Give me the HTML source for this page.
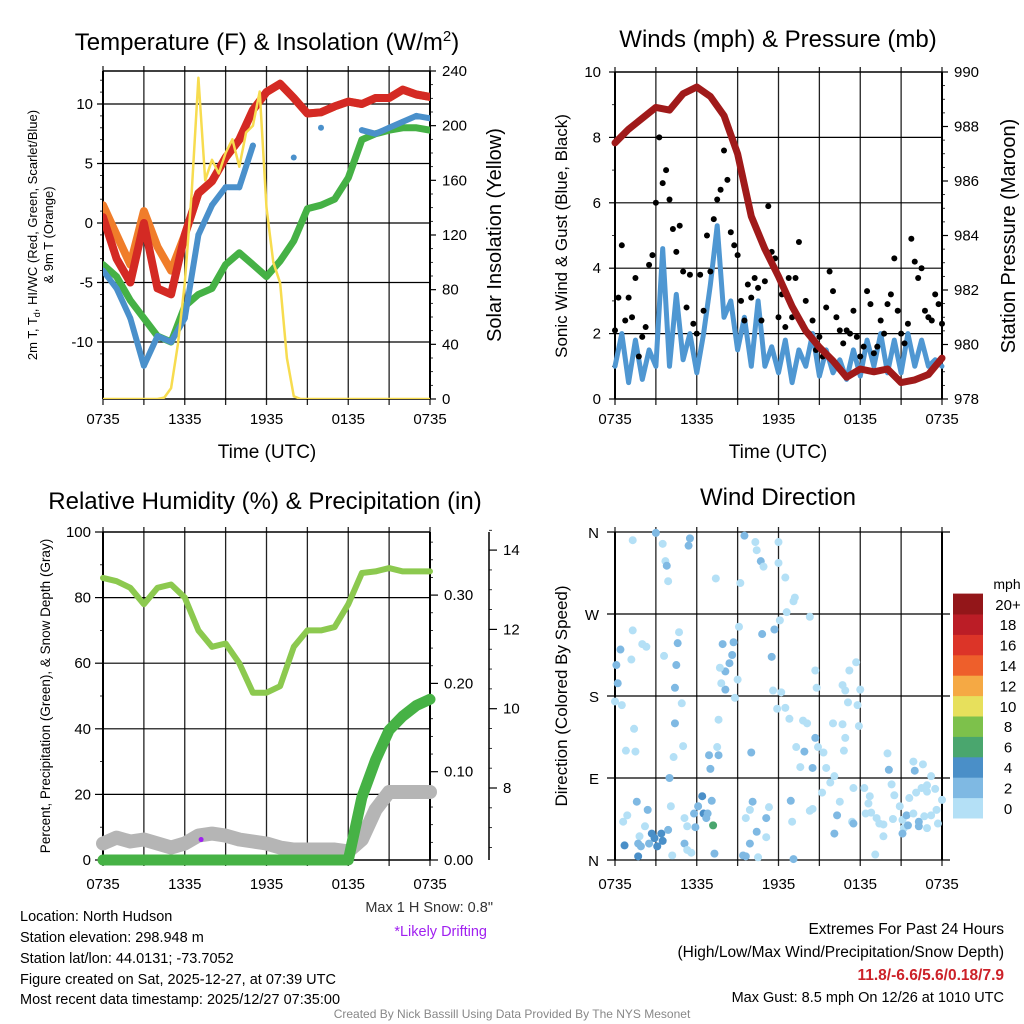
<!DOCTYPE html>
<html><head><meta charset="utf-8">
<style>
body{margin:0;background:#fff;}
svg{display:block;font-family:"Liberation Sans",sans-serif;}
</style></head>
<body>
<svg id="fig" width="1024" height="1024" viewBox="0 0 1024 1024" xmlns="http://www.w3.org/2000/svg">
<g font-size="24" text-anchor="middle" fill="#000">
<text x="267" y="50">Temperature (F) &amp; Insolation (W/m<tspan dy="-9" font-size="15">2</tspan><tspan dy="9">)</tspan></text>
<text x="778" y="47">Winds (mph) &amp; Pressure (mb)</text>
<text x="265" y="509">Relative Humidity (%) &amp; Precipitation (in)</text>
<text x="778" y="505">Wind Direction</text>
</g>
<g id="layer"></g>
<g font-size="14.5" fill="#000">
<text x="20" y="921">Location: North Hudson</text>
<text x="20" y="942">Station elevation: 298.948 m</text>
<text x="20" y="963">Station lat/lon: 44.0131; -73.7052</text>
<text x="20" y="984">Figure created on Sat, 2025-12-27, at 07:39 UTC</text>
<text x="20" y="1004">Most recent data timestamp: 2025/12/27 07:35:00</text>
<text x="493" y="912" text-anchor="end" fill="#333">Max 1 H Snow: 0.8"</text>
<text x="487" y="936" text-anchor="end" fill="#a020f0">*Likely Drifting</text>
<text x="1004" y="934" text-anchor="end" font-size="15.5">Extremes For Past 24 Hours</text>
<text x="1004" y="957" text-anchor="end" font-size="15.5">(High/Low/Max Wind/Precipitation/Snow Depth)</text>
<text x="1004" y="980" text-anchor="end" font-size="15.5" font-weight="bold" fill="#cc2229">11.8/-6.6/5.6/0.18/7.9</text>
<text x="1004" y="1002" text-anchor="end" font-size="14.5">Max Gust: 8.5 mph On 12/26 at 1010 UTC</text>
<text x="512" y="1018" text-anchor="middle" font-size="12" fill="#888">Created By Nick Bassill Using Data Provided By The NYS Mesonet</text>
</g>
</svg>
<script>
// ---- data ----
const timeLabels = ["0735","1335","1935","0135","0735"];
const hours = [0,1,2,3,4,5,6,7,8,9,10,11,12,13,14,15,16,17,18,19,20,21,22,23,24];
const tempRed = [0.5,-3,-5,0,-5.5,-6,-1,2.5,3.5,5.5,7,9.5,11,11.7,10.5,9.2,9.3,9.8,10.2,10,10.5,10.5,11.2,10.8,10.6];
const temp9mOrange = [1.5,-1,-3.5,1,-2,-4,-1,2.5,3.5,5.5,7,9.5,11,11.7,10.5,9.2,9.3,9.8,10.2,10,10.5,10.5,11.2,10.8,10.6];
const dewGreen = [-3.5,-4.5,-6.5,-8,-9.5,-10,-7,-6,-5.5,-3.5,-2.5,-3.5,-4.5,-3.2,-1.5,1.2,1.5,2,3.8,7,7.5,7.8,8,8,7.8];
const windChillBlue = [-4,-5.5,-8,-12,-9.5,-10,-8,-1,1.5,3,3,6.5,null,null,5.5,null,8,null,null,7.8,7.5,8,8.5,9,8.8];
const halfHours = [0,0.5,1,1.5,2,2.5,3,3.5,4,4.5,5,5.5,6,6.5,7,7.5,8,8.5,9,9.5,10,10.5,11,11.5,12,12.5,13,13.5,14,14.5,15,15.5,16,16.5,17,17.5,18,18.5,19,19.5,20,20.5,21,21.5,22,22.5,23,23.5,24];
const insolation = [0,0,0,0,0,0,0,0,0,1,8,40,85,150,235,160,175,165,180,190,170,195,200,225,140,100,85,30,2,0,0,0,0,0,0,0,0,0,0,0,0,0,0,0,0,0,0,0,0];
const pressure = [987.4,987.9,988.3,988.7,988.6,989.2,989.45,989.1,988.4,987,984.7,983.5,982.5,981.4,980.5,979.9,979.4,978.8,979.1,979.0,979.1,978.6,978.7,978.9,979.5];
const windSpeed = [1.0,2.0,0.5,1.8,0.6,1.5,1.0,4.6,1.0,3.2,1.2,2.0,0.8,2.0,3.5,5.3,2.5,3.0,1.5,2.5,1.0,3.0,1.0,1.6,0.8,1.8,0.5,1.5,1.0,2.0,0.7,1.5,0.8,1.2,0.6,1.5,0.7,1.8,1.0,2.0,0.8,1.8,0.8,2.0,1.0,1.8,1.0,1.2,1.0];
const gusts = [2.1,3.1,4.7,2.4,3.1,2.5,3.7,1.3,1.9,2.2,4.1,4.4,6.0,8.0,6.6,7.0,6.1,5.2,4.5,5.3,3.9,2.8,3.8,2.3,2.0,3.8,2.7,5.0,3.9,5.5,6.1,6.4,7.6,6.7,5.1,4.7,4.4,3.0,2.4,3.5,3.1,3.7,3.4,2.4,3.6,5.9,4.5,4.3,2.5,3.2,2.2,3.7,2.5,3.7,4.8,2.3,3.0,2.0,2.4,1.5,1.9,1.3,2.8,3.9,3.3,2.5,2.1,1.7,2.1,2.0,2.7,1.9,1.3,1.6,3.3,2.9,1.4,1.6,2.4,2.0,2.9,3.2,4.3,2.7,2.0,1.7,2.3,4.9,4.2,3.7,4.0,2.7,2.5,2.4,3.2,2.9,2.3];
const relHumidity = [86,85,83,78,83,84,80,70,65,66,60,51,51,53,65,70,70,71,78,87.5,88,89,88,88,88];
const precip = [0,0,0,0,0,0,0,0,0,0,0,0,0,0,0,0,0,0,0,0.071,0.113,0.147,0.163,0.175,0.182];
const snowDepth = [6.6,6.75,6.65,6.7,6.6,6.5,6.6,6.8,6.85,6.8,6.7,6.65,6.6,6.5,6.45,6.45,6.45,6.45,6.4,6.7,7.45,7.9,7.9,7.9,7.9];
const dirTime = [1.3,3,3.5,3.7,3.8,3.9,5.5,5.4,7.4,9.2,9.5,10.3,10.4,10.7,10.9,12,12,12.5,13.2,13.1,12.6,14.3,12.1,11.7,10.8,9.1,1.3,0.4,0.1,0.2,0,0.5,1.2,2,2.3,1.4,0.8,1.5,3.6,4.6,4.5,4.4,4.9,4.4,5,4.3,4,4.7,7.9,8.7,8.6,8.4,8.1,7.7,8.1,9,8.8,7.8,7.6,7.5,6.9,7.6,7,10,11.5,11.6,12.2,12.5,11.9,12.8,13.8,14.1,14.7,13.9,13.3,13.6,14.5,14.9,15.3,15.5,16.1,14.7,14.8,16.7,16.9,17.2,17.7,17.1,17.8,18,17.9,16,16.7,16.9,16.8,15.8,15.2,17.5,18.3,18.7,18.6,18.4,18.8,19.2,19.4,19.7,19.7,19.1,20.1,20,20.3,20.5,20.9,20.4,21.1,21.4,21.2,21.5,21.1,21.9,22.3,22.3,22.7,22.9,21.6,22,21.9,22.6,22.1,22.5,22.9,23.2,23.5,23.6,24,23.7,23.2,22.9,0.9,0.6,1.6,2.4,2.2,1.8,1.7,1.9,2.5,2.7,2.9,3.4,3.5,3.1,1.7,0.7,3.9,4.1,4.2,5.1,5.3,5.6,5.1,5.3,5.8,5.9,6.1,6.4,6.5,6.8,6.7,7.2,7.1,7.3,9.4,9.6,9.9,9.6,9.9,10.1,10.4,11.1,11.3,11.1,10.5,12.9,13,13.1,14.3,14.5,16.1,16.3,16.5,17.4,17.5];
const dirDeg = [351,359,347,328,323,306,353,345,309,304,356,349,340,328,322,349,326,310,288,284,272,267,263,253,248,256,252,231,214,194,174,170,220,237,234,144,120,119,224,238,214,189,172,150,125,113,90,250,237,239,225,216,207,211,187,198,178,194,154,124,115,115,100,118,223,186,184,167,166,155,153,150,134,119,124,102,101,124,118,101,92,208,189,192,186,208,217,173,170,187,147,150,149,134,120,85,74,79,79,70,62,51,52,46,40,39,26,6,99,117,83,71,59,45,44,49,35,38,29,51,42,37,48,35,68,98,108,105,74,79,82,92,78,55,66,40,49,75,49,42,64,55,37,26,18,15,18,29,24,29,21,15,4,16,33,59,5,18,11,8,46,37,51,36,59,70,51,51,46,38,65,7,5,4,18,46,55,64,31,46,58,25,3,65,42,1,54,56,29,49,64,42,40];
const dirSpeed = [1,3,1,1,3,1,3,3,1,1,3,1,1,3,1,1,1,1,1,1,1,1,1,3,3,1,1,3,3,3,1,1,1,1,1,1,1,1,1,3,3,3,1,3,1,1,3,1,3,3,3,3,3,1,3,1,1,1,1,1,3,3,3,3,3,1,1,1,1,1,1,1,3,3,1,1,3,1,1,1,1,1,1,1,1,1,1,1,1,1,1,1,1,1,1,1,1,1,1,1,1,1,1,1,1,1,1,1,3,1,1,1,1,1,1,3,1,3,3,1,3,3,1,1,1,3,1,1,1,1,1,1,1,1,1,1,1,1,1,1,3,3,1,1,3,3,3,4,4,4,4,4,4,4,3,1,1,3,1,1,1,1,3,3,3,4,4,3,3,6,3,3,3,3,3,1,1,3,3,3,1,1,1,3,1,3,1,1,3,3,1,1,3,3,1,1];
const cbarLabels = ["0","2","4","6","8","10","12","14","16","18","20+"];
const cbarColors = ["#b4e0f6","#7fb9e3","#4a8fc8","#4aa66e","#7dc14b","#e7e05c","#f5a944","#ee5f2b","#dc3428","#bb1d26","#931619"];

// ---- helpers ----
const NS="http://www.w3.org/2000/svg";
const L=document.getElementById('layer');
function mk(tag,attrs,parent){const e=document.createElementNS(NS,tag);for(const k in attrs)e.setAttribute(k,attrs[k]);(parent||L).appendChild(e);return e;}
function line(x1,y1,x2,y2,st,w,p){return mk('line',{x1,y1,x2,y2,stroke:st,'stroke-width':w},p);}
function txt(x,y,s,size,anchor,p,extra){const t=mk('text',Object.assign({x,y,'font-size':size,'text-anchor':anchor||'middle'},extra||{}),p);t.textContent=s;return t;}
function pathFrom(xs,ys,fx,fy){let d='',pen=false;for(let i=0;i<xs.length;i++){if(ys[i]===null){pen=false;continue;}d+=(pen?'L':'M')+fx(xs[i]).toFixed(1)+' '+fy(ys[i]).toFixed(1);pen=true;}return d;}
function series(xs,ys,fx,fy,color,w,name,p){
  const e=mk('path',{d:pathFrom(xs,ys,fx,fy),fill:'none',stroke:color,'stroke-width':w,'stroke-linejoin':'round','stroke-linecap':'round'},p);
  
  
  return e;
}
const HX=13.625;
function frame(x0,y0,x1,y1,name){
  const g=mk('g',{});
  
  
  for(let i=0;i<=8;i++){const x=x0+i*3*HX;line(x,y0-5,x,y1+6,'#222',1.3,g);}
  return g;
}
function xLabels(x0,y,g){for(let i=0;i<5;i++){txt(x0+i*6*HX,y,timeLabels[i],15,'middle',g);}}

// ================= Panel 1: temperature =================
(function(){
  const X0=103,Y0=71,Y1=399,X1=X0+24*HX;
  const fx=h=>X0+h*HX, fT=v=>223-v*11.9, fS=w=>399-w*1.3667;
  const g=frame(X0,Y0,X1,Y1,'temperature-panel');
  [-10,-5,0,5,10].forEach(v=>{line(X0-6,fT(v),X1,fT(v),'#000',1.2,g);txt(X0-10,fT(v)+5,String(v),15,'end',g);});
  for(let v=-14;v<=12;v++){if(v%5)line(X0-3,fT(v),X0,fT(v),'#000',0.8,g);}
  for(let w=0;w<=240;w+=10){const maj=w%40===0;line(X1,fS(w),X1+(maj?6:3),fS(w),'#000',maj?1.2:0.8,g);if(maj)txt(X1+12,fS(w)+5,String(w),15,'start',g);}
  line(X0,Y0,X0,Y1,'#000',2,g);line(X1,Y0,X1,Y1,'#000',2,g);line(X0,Y0,X1,Y0,'#000',1.5,g);line(X0,Y1,X1,Y1,'#000',1.5,g);
  xLabels(X0,424,g);
  txt(267,458,'Time (UTC)',19,'middle',g);
  const t1=mk('text',{'font-size':13,'text-anchor':'middle',transform:'translate(37,235) rotate(-90)'},g);
  const a=document.createElementNS(NS,'tspan');a.textContent='2m T, T';t1.appendChild(a);
  const b=document.createElementNS(NS,'tspan');b.textContent='d';b.setAttribute('font-size','9');b.setAttribute('dy','3');t1.appendChild(b);
  const c=document.createElementNS(NS,'tspan');c.textContent=', HI/WC (Red, Green, Scarlet/Blue)';c.setAttribute('dy','-3');t1.appendChild(c);
  txt(0,0,'& 9m T (Orange)',13,'middle',g,{transform:'translate(53,235) rotate(-90)'});
  txt(0,0,'Solar Insolation (Yellow)',20,'middle',g,{transform:'translate(501,235) rotate(-90)'});
  const cp=mk('clipPath',{id:'c1'},g);mk('rect',{x:X0,y:Y0,width:X1-X0,height:Y1-Y0},cp);
  const s=mk('g',{'clip-path':'url(#c1)'},g);
  series(hours,temp9mOrange,fx,fT,'#f07d2a',8,'temp-9m-line',s);
  series(hours,tempRed,fx,fT,'#d42a24',8,'temp-2m-line',s);
  series(hours,dewGreen,fx,fT,'#45b145',7,'dewpoint-line',s);
  series(hours,windChillBlue,fx,fT,'#4a90cb',6,'windchill-line',s);
  hours.forEach((h,i)=>{if(windChillBlue[i]!==null){const d=mk('circle',{cx:fx(h),cy:fT(windChillBlue[i]),r:3,fill:'#4a90cb'},s);}});
  series(halfHours,insolation,fx,fS,'#f7dc4f',2.5,'insolation-line',s);
})();

// ================= Panel 2: winds =================
(function(){
  const X0=615,Y0=72,Y1=399,X1=X0+24*HX;
  const fx=h=>X0+h*HX, fW=v=>399-v*32.7, fP=p=>399-(p-978)*27.25;
  const g=frame(X0,Y0,X1,Y1,'winds-panel');
  for(let v=0;v<=10;v+=2){if(v>0&&v<10)line(X0,fW(v),X1,fW(v),'#000',1.2,g);line(X0-6,fW(v),X0,fW(v),'#000',1.2,g);txt(X0-14,fW(v)+5,String(v),15,'end',g);}
  for(let v=1;v<10;v+=2)line(X0-3,fW(v),X0,fW(v),'#000',0.8,g);
  for(let p=978;p<=990;p+=0.5){const maj=p%2===0;line(X1,fP(p),X1+(maj?6:3),fP(p),'#000',maj?1.2:0.8,g);if(maj)txt(X1+12,fP(p)+5,String(p),15,'start',g);}
  line(X0,Y0,X0,Y1,'#000',2,g);line(X1,Y0,X1,Y1,'#000',2,g);line(X0,Y0,X1,Y0,'#000',1.5,g);line(X0,Y1,X1,Y1,'#000',1.5,g);
  xLabels(X0,424,g);
  txt(778,458,'Time (UTC)',19,'middle',g);
  txt(0,0,'Sonic Wind & Gust (Blue, Black)',17,'middle',g,{transform:'translate(567,236) rotate(-90)'});
  txt(0,0,'Station Pressure (Maroon)',20,'middle',g,{transform:'translate(1015,236) rotate(-90)'});
  series(halfHours,windSpeed,fx,fW,'#4f97d2',5,'wind-speed-line',g);
  gusts.forEach((v,i)=>{const d=mk('circle',{cx:fx(i*0.25),cy:fW(v),r:3,fill:'#000'},g);});
  series(hours,pressure,fx,fP,'#a01a1a',7,'pressure-line',g);
})();

// ================= Panel 3: humidity =================
(function(){
  const X0=103,Y0=532,Y1=860,X1=X0+24*HX;
  const fx=h=>X0+h*HX, fR=v=>860-v*3.28, fPr=p=>860-p*883, fSn=s=>788-(s-8)*39.65;
  const g=frame(X0,Y0,X1,Y1,'humidity-panel');
  for(let v=0;v<=100;v+=20){if(v>0&&v<100)line(X0,fR(v),X1,fR(v),'#000',1.2,g);line(X0-8,fR(v),X0,fR(v),'#000',1.2,g);txt(X0-12,fR(v)+5,String(v),15,'end',g);}
  for(let v=10;v<100;v+=20)line(X0-3,fR(v),X0,fR(v),'#000',0.8,g);
  for(let i=0;i<=18;i++){const p=i*0.02,maj=i%5===0;line(X1,fPr(p),X1+(maj?8:3),fPr(p),'#000',maj?1.2:0.8,g);if(maj)txt(X1+14,fPr(p)+5,p.toFixed(2),15,'start',g);}
  line(489,532,489,860,'#000',1.5,g);
  for(let i=0;i<=16;i++){const s=6.5+i*0.5;const maj=(s%2===0);line(489,fSn(s),489+(maj?8:3),fSn(s),'#000',maj?1.2:0.8,g);if(maj)txt(503,fSn(s)+5,String(s),15,'start',g);}
  line(X0,Y0,X0,Y1,'#000',2,g);line(X1,Y0,X1,Y1,'#000',2,g);line(X0,Y0,X1,Y0,'#000',1.5,g);line(X0,Y1,X1,Y1,'#000',1.5,g);
  xLabels(X0,889,g);
  txt(0,0,'Percent, Precipitation (Green), & Snow Depth (Gray)',13.5,'middle',g,{transform:'translate(50,696) rotate(-90)'});
  series(hours,relHumidity,fx,fR,'#8cc94f',6,'humidity-line',g);
  series(hours,snowDepth,fx,fSn,'#b5b5b5',14,'snow-depth-line',g);
  series(hours,precip,fx,fPr,'#46b245',11,'precip-line',g);
  const pd=mk('circle',{cx:fx(7.2),cy:fSn(6.7),r:2.5,fill:'#a020f0'},g);
})();

// ================= Panel 4: wind direction =================
(function(){
  const X0=615,Y0=532,Y1=860,X1=X0+24*HX;
  const fx=h=>X0+h*HX, fD=d=>860-d*0.9111;
  const g=frame(X0,Y0,X1,Y1,'wind-direction-panel');
  const dl=['N','E','S','W','N'];
  [0,90,180,270,360].forEach((d,i)=>{line(X0-8,fD(d),X1+8,fD(d),'#000',1.2,g);txt(X0-16,fD(d)+6,dl[i],15,'end',g);});
  line(X0,Y0,X0,Y1,'#000',2,g);line(X1,Y0,X1,Y1,'#000',2,g);
  xLabels(X0,889,g);
  txt(0,0,'Direction (Colored By Speed)',17,'middle',g,{transform:'translate(567,696) rotate(-90)'});
  dirTime.forEach((h,i)=>{const c=cbarColors[Math.min(10,Math.floor(dirSpeed[i]/2))];const d=mk('circle',{cx:fx(h),cy:fD(dirDeg[i]),r:4,fill:c},g);});
  const cb=mk('g',{},g);
  
  
  const bh=20.4;
  cbarColors.forEach((c,i)=>{const y=818-(i+1)*bh;mk('rect',{x:953,y:y,width:30,height:bh+0.5,fill:c},cb);txt(1008,y+bh/2+6,cbarLabels[i],15,'middle',cb);});
  txt(1007,589,'mph',14,'middle',cb);
})();
</script>
</body></html>
